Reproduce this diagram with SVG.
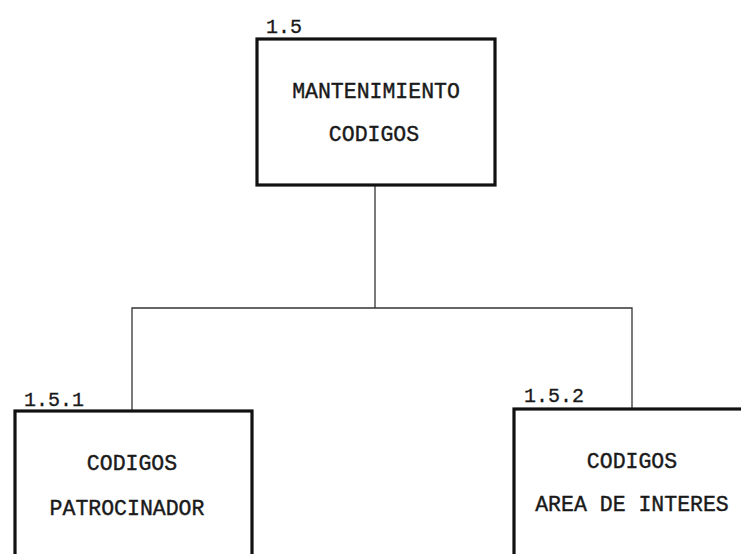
<svg xmlns="http://www.w3.org/2000/svg" width="741" height="554" viewBox="0 0 741 554">
<style>
.box{fill:#fff;stroke:#111;stroke-width:3.2}
.t{font-family:"Liberation Mono",monospace;font-size:21.5px;fill:#1a1a1a;stroke:#1a1a1a;stroke-width:0.4;text-anchor:middle}
.id{font-family:"Liberation Mono",monospace;font-size:20px;fill:#1a1a1a;stroke:#1a1a1a;stroke-width:0.3}
.c{fill:none;stroke:#333;stroke-width:1.3}
</style>
<rect width="741" height="554" fill="#fff"/>
<g id="connectors">
<line class="c" x1="375" y1="185" x2="375" y2="308"/>
<polyline class="c" points="132,410 132,308 632,308 632,408"/>
</g>
<g id="node-1.5">
<rect class="box" x="257" y="39" width="238" height="146"/>
<text class="id" x="266" y="33">1.5</text>
<text class="t" x="376" y="98">MANTENIMIENTO</text>
<text class="t" x="374" y="141">CODIGOS</text>
</g>
<g id="node-1.5.1">
<rect class="box" x="15" y="411" width="237" height="160"/>
<text class="id" x="24" y="406">1.5.1</text>
<text class="t" x="132" y="470">CODIGOS</text>
<text class="t" x="127" y="515">PATROCINADOR</text>
</g>
<g id="node-1.5.2">
<rect class="box" x="514" y="409" width="240" height="160"/>
<text class="id" x="524" y="402">1.5.2</text>
<text class="t" x="632" y="468">CODIGOS</text>
<text class="t" x="632" y="511">AREA DE INTERES</text>
</g>
</svg>
